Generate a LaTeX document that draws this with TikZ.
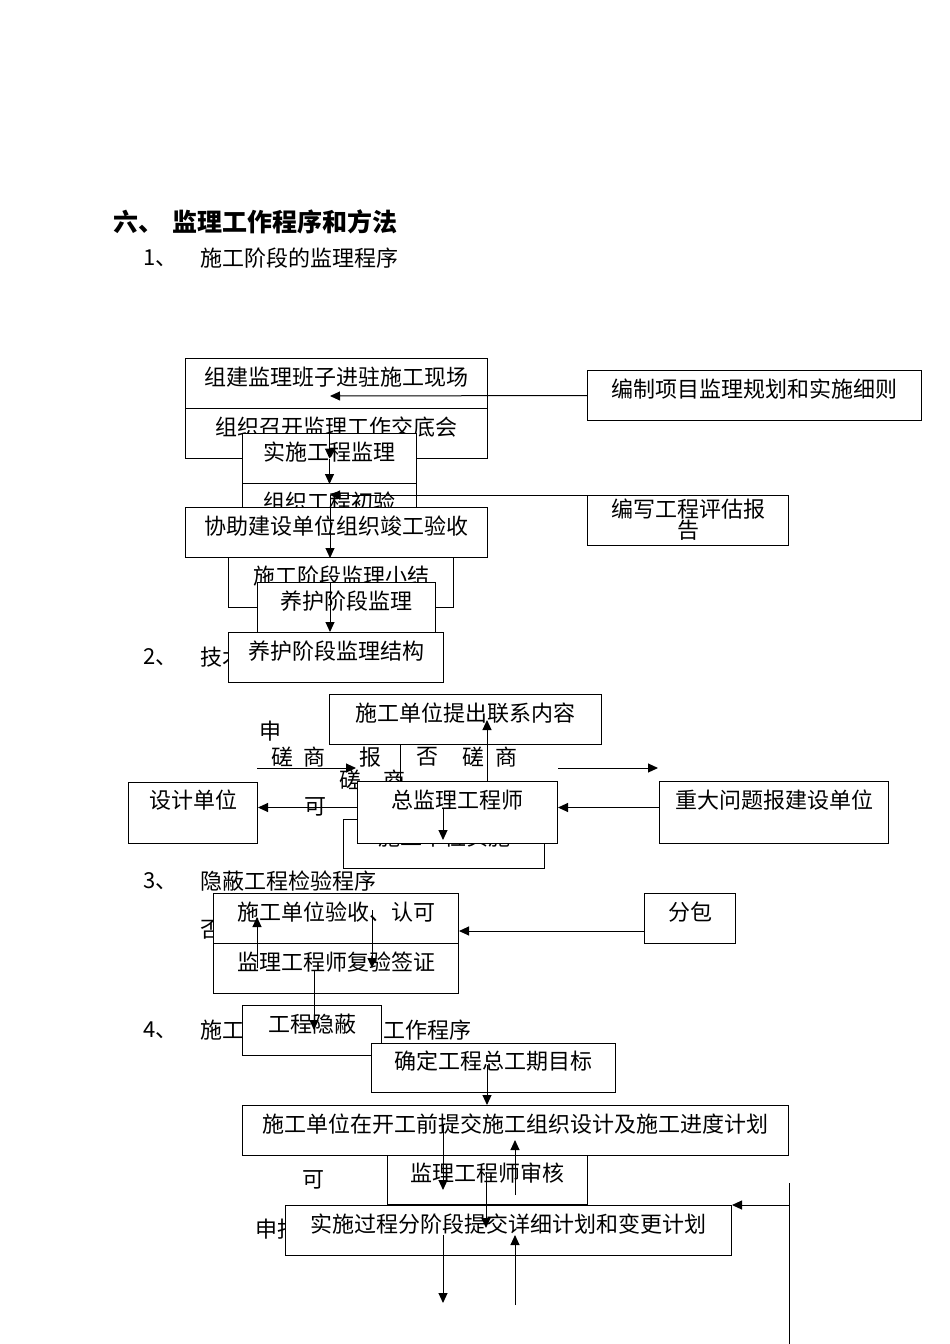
\documentclass[tikz,border=0pt]{standalone}
\usepackage{fontspec}
\setmainfont{Noto Sans CJK SC}
\usetikzlibrary{arrows.meta}

\tikzset{
  box/.style={draw, fill=white, line width=1pt, inner sep=0pt, anchor=north west,
    font=\fontsize{22}{21}\selectfont, text height=14pt, text depth=11pt},
  tallbox/.style={box, text depth=23pt},
  lbl/.style={inner sep=0pt, font=\fontsize{22}{22}\selectfont},
  head/.style={lbl, anchor=west},
  arr/.style={line width=1pt, -{Triangle[length=10pt,width=9pt]}},
  ln/.style={line width=1pt},
}

\begin{document}
\begin{tikzpicture}[x=1pt, y=-1pt]
\useasboundingbox (0,0) rectangle (950,1344);

% Headings
\node[head, font=\fontsize{25}{25}\selectfont\bfseries] (title) at (113,222) {六、\hspace{9pt}监理工作程序和方法};
\node[head] (n1) at (143,258) {1、};
\node[head] (h1) at (200,258) {施工阶段的监理程序};
\node[head] (n2) at (143,657) {2、};
\node[head] (h2) at (200,657) {技术};
\node[head] (n3) at (143,881) {3、};
\node[head] (h3) at (200,881) {隐蔽工程检验程序};
\node[head] (n4) at (143,1030) {4、};
\node[head] (h4a) at (200,1030) {施工};
\node[head] (h4b) at (383,1030) {工作程序};

% 1: construction stage
\node[box, minimum width=302, minimum height=50] (setup) at (185,358) {组建监理班子进驻施工现场};
\node[box, minimum width=302, minimum height=50] (brief) at (185,408) {组织召开监理工作交底会};
\node[box, minimum width=174, minimum height=50] (impl) at (242,433) {实施工程监理};
\node[box, minimum width=174, minimum height=50] (prelim) at (242,483) {组织工程初验};
\node[box, minimum width=302, minimum height=50] (assist) at (185,507) {协助建设单位组织竣工验收};
\node[box, minimum width=225, minimum height=50] (summary) at (228,557) {施工阶段监理小结};
\node[box, minimum width=178, minimum height=50] (curing) at (257,582) {养护阶段监理};
\node[box, minimum width=215, minimum height=50] (curend) at (228,632) {养护阶段监理结构};
\node[box, minimum width=334, minimum height=50] (plan) at (587,370) {编制项目监理规划和实施细则};
\node[box, minimum width=201, minimum height=50, align=center, text height=35pt, text depth=-10pt] (report) at (587,495) {编写工程评估报\\告};

\coordinate (planend) at (330,396);
\coordinate (reportend) at (330,495);
\draw[arr] (plan.west) -- (planend);
\draw[arr] (impl.north) -- (impl.center);
\draw[arr] (impl.center) -- (impl.south);
\draw[arr] (report.north west) -- (reportend);
\draw[arr] (reportend) -- (reportend |- assist.south);
\draw[arr] (reportend |- curing.north) -- (reportend |- curend.north);

% 2: technical contact
\foreach \x/\y/\t [count=\i] in {270/731/申, 282/757/磋, 314/757/商, 370/757/报, 427/757/否,
    473/757/磋, 506/757/商, 350/780/磋, 394/780/商, 315/807/可}
  \node[lbl] (w\i) at (\x,\y) {\t};
\node[box, minimum width=201, minimum height=49] (exec) at (343,819) {施工单位实施};
\node[box, minimum width=272, minimum height=50] (contact) at (329,694) {施工单位提出联系内容};
\node[tallbox, minimum width=129, minimum height=61] (design) at (128,782) {设计单位};
\node[tallbox, minimum width=200, minimum height=62] (chief) at (357,781) {总监理工程师};
\node[tallbox, minimum width=229, minimum height=62] (major) at (659,781) {重大问题报建设单位};

\coordinate (talkL) at (257,768);
\coordinate (talkLend) at (356,768);
\coordinate (talkR) at (558,768);
\coordinate (talkRend) at (658,768);
\coordinate (downA) at (443,808);
\coordinate (downAend) at (443,840);
\draw[ln] (400,744) coordinate (vtop) -- (vtop |- chief.north);
\draw[arr] (talkL) -- (talkLend);
\draw[arr] (talkR) -- (talkRend);
\draw[arr] ([yshift=5pt]chief.west) -- ([yshift=5pt]chief.west -| design.east);
\draw[arr] ([yshift=5pt]major.west) -- ([yshift=5pt]major.west -| chief.east);
\draw[arr] (487,781) coordinate (upA) -- (487,720);
\draw[arr] (downA) -- (downAend);

% 3: concealed work check
\node[lbl] (no3) at (211,930) {否};
\node[box, minimum width=245, minimum height=50] (accept) at (213,893) {施工单位验收、认可};
\node[box, minimum width=245, minimum height=50] (recheck) at (213,943) {监理工程师复验签证};
\node[box, minimum width=91, minimum height=50] (subc) at (644,893) {分包};

\coordinate (upB) at (257,968);
\coordinate (upBend) at (257,917);
\coordinate (downB) at (372,910);
\coordinate (downBend) at (372,968);
\coordinate (downC) at (314,970);
\coordinate (downCend) at (314,1030);
\draw[arr] (subc.west |- 0,931) -- (accept.east |- 0,931);
\draw[arr] (upB) -- (upBend);
\draw[arr] (downB) -- (downBend);

% 4: schedule control
\node[box, minimum width=139, minimum height=50] (hidden) at (242,1005) {工程隐蔽};
\draw[arr] (downC) -- (downCend);
\node[box, minimum width=244, minimum height=49] (target) at (371,1043) {确定工程总工期目标};
\node[lbl] (ok4) at (313,1180) {可};
\node[head] (rep4) at (255,1229) {申报};
\node[box, minimum width=546, minimum height=50] (submit) at (242,1105) {施工单位在开工前提交施工组织设计及施工进度计划};
\node[box, minimum width=200, minimum height=49] (review) at (387,1155) {监理工程师审核};
\node[box, minimum width=446, minimum height=50] (phase) at (285,1205) {实施过程分阶段提交详细计划和变更计划\hspace{20pt}};

\coordinate (tgt) at (487,1065);
\coordinate (dnD) at (443,1125);
\coordinate (dnDend) at (443,1190);
\coordinate (upD) at (515,1195);
\coordinate (upDend) at (515,1140);
\coordinate (rev) at (486,1172);
\coordinate (revend) at (486,1228);
\coordinate (dnE) at (443,1235);
\coordinate (dnEend) at (443,1303);
\coordinate (upE) at (515,1305);
\coordinate (upEend) at (515,1235);
\coordinate (side) at (789,1183);
\coordinate (sideend) at (789,1344);
\draw[arr] (tgt) -- (tgt |- submit.north);
\draw[arr] (dnD) -- (dnDend);
\draw[arr] (upD) -- (upDend);
\draw[arr] (rev) -- (revend);
\draw[arr] (dnE) -- (dnEend);
\draw[arr] (upE) -- (upEend);
\draw[ln] (side) -- (sideend);
\draw[arr] (side |- phase.north east) -- (phase.north east);
\end{tikzpicture}
\end{document}
